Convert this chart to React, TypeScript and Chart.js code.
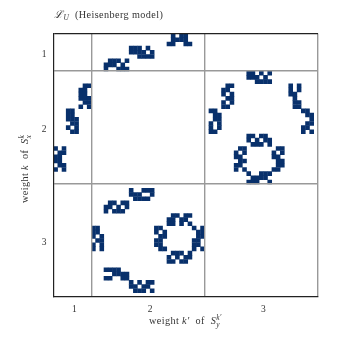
import React, { useEffect, useRef } from "react";
import { Chart, registerables } from "chart.js";

Chart.register(...registerables);

// Each entry: [row, ...filled columns]
const topA = [[0, 28, 30, 31], [1, 28, 29, 30, 31], [2, 27, 28, 31, 32]];
const topB = [[3, 18, 19, 20, 22], [4, 18, 19, 20, 21, 23], [5, 20, 21, 22, 23]];
const topC = [[6, 13, 14, 15, 17], [7, 12, 13, 14, 16], [8, 12, 15, 16, 17]];
const leftD = [[12, 7, 8], [13, 6, 7], [14, 6, 7], [15, 6, 7, 8], [16, 7, 8], [17, 6, 8]];
const leftE = [[18, 3, 4], [19, 3, 4], [20, 3, 4, 5], [21, 4, 5], [22, 3, 5], [23, 4, 5]];
const leftF = [[27, 0, 2], [28, 1, 2], [29, 0, 1], [30, 0, 1], [31, 1, 2], [32, 0, 2]];
const rightG = [[9, 46, 47, 49, 51], [10, 46, 47, 48, 50], [11, 48, 49, 50, 51]];
const rightH = [[12, 41, 42], [13, 40, 41], [14, 40, 42], [15, 41, 42], [16, 40, 42], [17, 40, 41]];
const rightI = [[18, 37, 38], [19, 38, 39], [20, 38, 39], [21, 37, 39], [22, 37, 39], [23, 37, 38]];
const rightJ = [[12, 56, 58], [13, 56, 58], [14, 56, 57], [15, 57], [16, 57, 58], [17, 57, 58]];
const rightK = [[18, 59, 60], [19, 60, 61], [20, 61], [21, 60, 61], [22, 59, 60], [23, 59, 61]];
const ringTop = [[24, 46, 47, 49, 50], [25, 46, 48, 50, 51], [26, 47, 48, 49, 51]];
const ringLeft = [[27, 44, 45], [28, 43, 45], [29, 43, 44], [30, 44, 45], [31, 43, 44], [32, 43, 45]];
const ringRight = [[27, 53, 54], [28, 52, 54], [29, 52, 53], [30, 53, 54], [31, 53, 54], [32, 52, 53]];
const ringBottom = [[33, 46, 49, 50, 51], [34, 47, 48, 49, 50], [35, 46, 47, 48, 51]];
const lowM = [[37, 18, 21, 22, 23], [38, 18, 19, 20, 23], [39, 19, 20, 21, 22]];
const lowN = [[40, 13, 14, 16, 17], [41, 12, 13, 15, 17], [42, 12, 14, 15, 16]];
const lowO = [[46, 9, 10], [47, 9, 10], [48, 9, 11], [49, 10, 11], [50, 9, 11], [51, 9, 11]];
const lowP = [[56, 12, 13, 14, 15], [57, 14, 15, 16, 17], [58, 12, 13, 16, 17]];
const lowQ = [[59, 18, 20, 22, 23], [60, 18, 19, 21, 22], [61, 19, 20, 21, 23]];
const low2Left = [[46, 24, 25], [47, 24, 26], [48, 25, 26], [49, 24, 25], [50, 24, 25], [51, 25, 26]];
const low2Top = [[43, 28, 29, 31, 32], [44, 27, 28, 30, 31], [45, 27, 28, 30, 32]];
const low2Right = [[46, 33, 35], [47, 34, 35], [48, 34, 35], [49, 33, 34], [50, 33, 34], [51, 33, 35]];
const low2Bottom = [[52, 28, 29, 30, 32], [53, 27, 29, 31, 32], [54, 27, 28, 30, 31]];

const clusters = [
  topA, topB, topC, leftD, leftE, leftF, rightG, rightH, rightI, rightJ, rightK,
  ringTop, ringLeft, ringRight, ringBottom, lowM, lowN, lowO, lowP, lowQ,
  low2Left, low2Top, low2Right, low2Bottom,
];

const gridSize = 63;
const separators = [9, 36, 63];
const labelCenters = [5, 23, 50];
const tickLabels = ["1", "2", "3"];

const points = clusters.flatMap((cluster) =>
  cluster.flatMap(([row, ...cols]) => cols.map((c) => ({ x: c + 0.5, y: row + 0.5 })))
);

const SERIF = '"Liberation Serif", serif';
type Frag = [string, string, number];
const roman = `10.2px ${SERIF}`;
const ital = `italic 10.2px ${SERIF}`;
const small = `italic 7.4px ${SERIF}`;
const titleFrags: Frag[] = [["\u2112", `italic 10.5px ${SERIF}`, 0], ["U", small, 2], ["  (Heisenberg model)", roman, 0]];
const xFrags: Frag[] = [["weight ", roman, 0], ["k\u2032", ital, 0], ["  of  ", roman, 0], ["S", ital, 0], ["y", small, 2.5]];
const xSup = "k\u2032";
const yFrags: Frag[] = [["weight ", roman, 0], ["k", ital, 0], ["  of  ", roman, 0], ["S", ital, 0], ["x", small, 2.5]];
const ySup = "k";

function drawFrags(ctx: CanvasRenderingContext2D, frags: Frag[], x: number, y: number, sup?: string) {
  let cx = x;
  ctx.textBaseline = "alphabetic";
  ctx.textAlign = "left";
  ctx.fillStyle = "#333";
  (ctx as any).letterSpacing = "0.4px";
  frags.forEach(([t, f, dy]) => {
    ctx.font = f;
    const w = ctx.measureText(t).width;
    ctx.fillText(t, cx, y + dy);
    if (dy > 2 && sup) {
      ctx.font = small;
      ctx.fillText(sup, cx, y - 4);
    }
    cx += w;
  });
  (ctx as any).letterSpacing = "0px";
}

const textPlugin = {
  id: "mathText",
  afterDraw(chart: any) {
    const ctx = chart.ctx as CanvasRenderingContext2D;
    ctx.save();
    drawFrags(ctx, titleFrags, 54, 18);
    drawFrags(ctx, xFrags, 149, 324, xSup);
    ctx.translate(28, 203);
    ctx.rotate(-Math.PI / 2);
    drawFrags(ctx, yFrags, 0, 0, ySup);
    ctx.restore();
  },
};

export default function App() {
  const ref = useRef<HTMLCanvasElement>(null);
  useEffect(() => {
    const isSep = (v: number) => separators.includes(v);
    const axisTicks = [...labelCenters, ...separators].sort((a, b) => a - b);
    const label = (v: any) => {
      const i = labelCenters.indexOf(Number(v));
      return i >= 0 ? tickLabels[i] : "";
    };
    const chart = new Chart(ref.current!, {
      type: "scatter",
      data: {
        datasets: [
          {
            data: points,
            backgroundColor: "#08306b",
            borderWidth: 0,
            pointStyle: "rect",
            pointRadius: (c: any) => {
              const a = c.chart.chartArea;
              return a ? ((a.width / gridSize + 0.4) / 2) / Math.SQRT1_2 : 3;
            },
          },
        ],
      },
      plugins: [textPlugin],
      options: {
        animation: false,
        responsive: false,
        layout: { padding: { left: 0, top: 33.5, right: 20, bottom: 0 } },
        plugins: { legend: { display: false }, tooltip: { enabled: false }, title: { display: false } },
        scales: {
          x: {
            type: "linear",
            min: 0,
            max: gridSize,
            afterBuildTicks: (s: any) => {
              s.ticks = axisTicks.map((value) => ({ value }));
            },
            afterFit: (s: any) => {
              s.height = 41;
            },
            grid: {
              z: 1,
              drawTicks: false,
              lineWidth: 1.4,
              color: (c: any) => (c.tick && isSep(c.tick.value) ? "#999999" : "rgba(0,0,0,0)"),
            },
            border: { color: "#222222", width: 1.2, z: 2 },
            ticks: {
              autoSkip: false,
              maxRotation: 0,
              padding: 7,
              color: "#333",
              font: { family: SERIF, size: 9.5 },
              callback: label,
            },
          },
          y: {
            type: "linear",
            reverse: true,
            min: 0,
            max: gridSize,
            afterBuildTicks: (s: any) => {
              s.ticks = [0, ...axisTicks].map((value) => ({ value }));
            },
            afterFit: (s: any) => {
              s.width = 53.5;
            },
            grid: {
              z: 1,
              drawTicks: false,
              lineWidth: (c: any) => (c.tick && c.tick.value === 0 ? 1.2 : 1.4),
              color: (c: any) => {
                const v = c.tick && c.tick.value;
                if (v === 0) return "#222222";
                return v === 9 || v === 36 ? "#999999" : "rgba(0,0,0,0)";
              },
            },
            border: { color: "#222222", width: 1.2, z: 2 },
            ticks: {
              autoSkip: false,
              padding: 7,
              color: "#333",
              font: { family: SERIF, size: 9.5 },
              callback: label,
            },
          },
        },
      },
    } as any);
    return () => chart.destroy();
  }, []);
  return (
    <div style={{ position: "fixed", left: 0, top: 0, width: 338, height: 338, background: "#fff" }}>
      <canvas ref={ref} width={338} height={338} style={{ display: "block" }} />
    </div>
  );
}
